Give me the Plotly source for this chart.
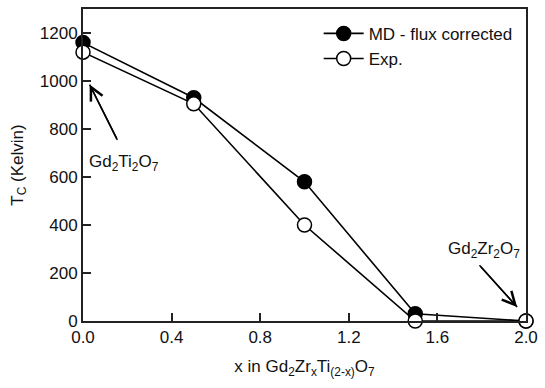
import plotly.graph_objects as go

x_vals = [0.0, 0.5, 1.0, 1.5, 2.0]
md_flux = [1160, 930, 580, 30, 0]
exp_vals = [1120, 905, 400, 0, 0]
x_ticks = [0.0, 0.4, 0.8, 1.2, 1.6, 2.0]
y_ticks = [0, 200, 400, 600, 800, 1000, 1200]

FONT = "Liberation Sans, Arial, sans-serif"
FS = 17

fig = go.Figure()
fig.add_trace(go.Scatter(
    x=x_vals, y=md_flux, mode="lines+markers", name="MD - flux corrected",
    line=dict(color="black", width=1.6),
    marker=dict(symbol="circle", size=14, color="black", line=dict(color="black", width=1.5)),
    cliponaxis=False))
fig.add_trace(go.Scatter(
    x=x_vals, y=exp_vals, mode="lines+markers", name="Exp.",
    line=dict(color="black", width=1.6),
    marker=dict(symbol="circle", size=14, color="white", line=dict(color="black", width=1.5)),
    cliponaxis=False))

fig.update_layout(
    width=545, height=388,
    margin=dict(l=83, r=13, t=7, b=67),
    plot_bgcolor="white", paper_bgcolor="white",
    font=dict(family=FONT, size=FS, color="#111"),
    showlegend=True,
    legend=dict(x=0.532, y=0.978, xanchor="left", yanchor="top",
                bgcolor="rgba(0,0,0,0)", font=dict(size=FS, family=FONT),
                itemwidth=40, tracegroupgap=0),
    xaxis=dict(range=[0, 2.0], tickvals=x_ticks, ticktext=["0.0", "0.4", "0.8", "1.2", "1.6", "2.0"],
               ticks="inside", ticklen=8, tickwidth=1.5, tickcolor="#222",
               showline=True, linecolor="#222", linewidth=2, mirror=True,
               showgrid=False, zeroline=False,
               title=dict(text="x in Gd<sub>2</sub>Zr<sub>x</sub>Ti<sub>(2-x)</sub>O<sub>7</sub>",
                          font=dict(size=FS), standoff=14)),
    yaxis=dict(range=[0, 1300], tickvals=y_ticks,
               ticks="inside", ticklen=8, tickwidth=1.5, tickcolor="#222",
               showline=True, linecolor="#222", linewidth=2, mirror=True,
               showgrid=False, zeroline=False,
               title=dict(text="T<sub>C</sub> (Kelvin)", font=dict(size=FS), standoff=12)),
)

# Arrow shafts (data coordinates) and arrowheads
arrows = [((0.155, 755), (0.03, 985)), ((1.79, 232), (1.96, 58))]
for (tx, ty), (hx, hy) in arrows:
    fig.add_shape(type="line", x0=tx, y0=ty, x1=hx, y1=hy, xref="x", yref="y",
                  line=dict(color="black", width=1.5))
    fig.add_annotation(x=hx, y=hy, ax=tx, ay=ty, xref="x", yref="y", axref="x", ayref="y",
                       text="", showarrow=True, arrowhead=5, arrowsize=1.7, arrowwidth=1.5,
                       arrowcolor="black")

fig.add_annotation(x=0.186, y=660, xref="x", yref="y", showarrow=False,
                   text="Gd<sub>2</sub>Ti<sub>2</sub>O<sub>7</sub>", font=dict(size=FS))
fig.add_annotation(x=1.81, y=295, xref="x", yref="y", showarrow=False,
                   text="Gd<sub>2</sub>Zr<sub>2</sub>O<sub>7</sub>", font=dict(size=FS))

fig.write_html("out.html")
